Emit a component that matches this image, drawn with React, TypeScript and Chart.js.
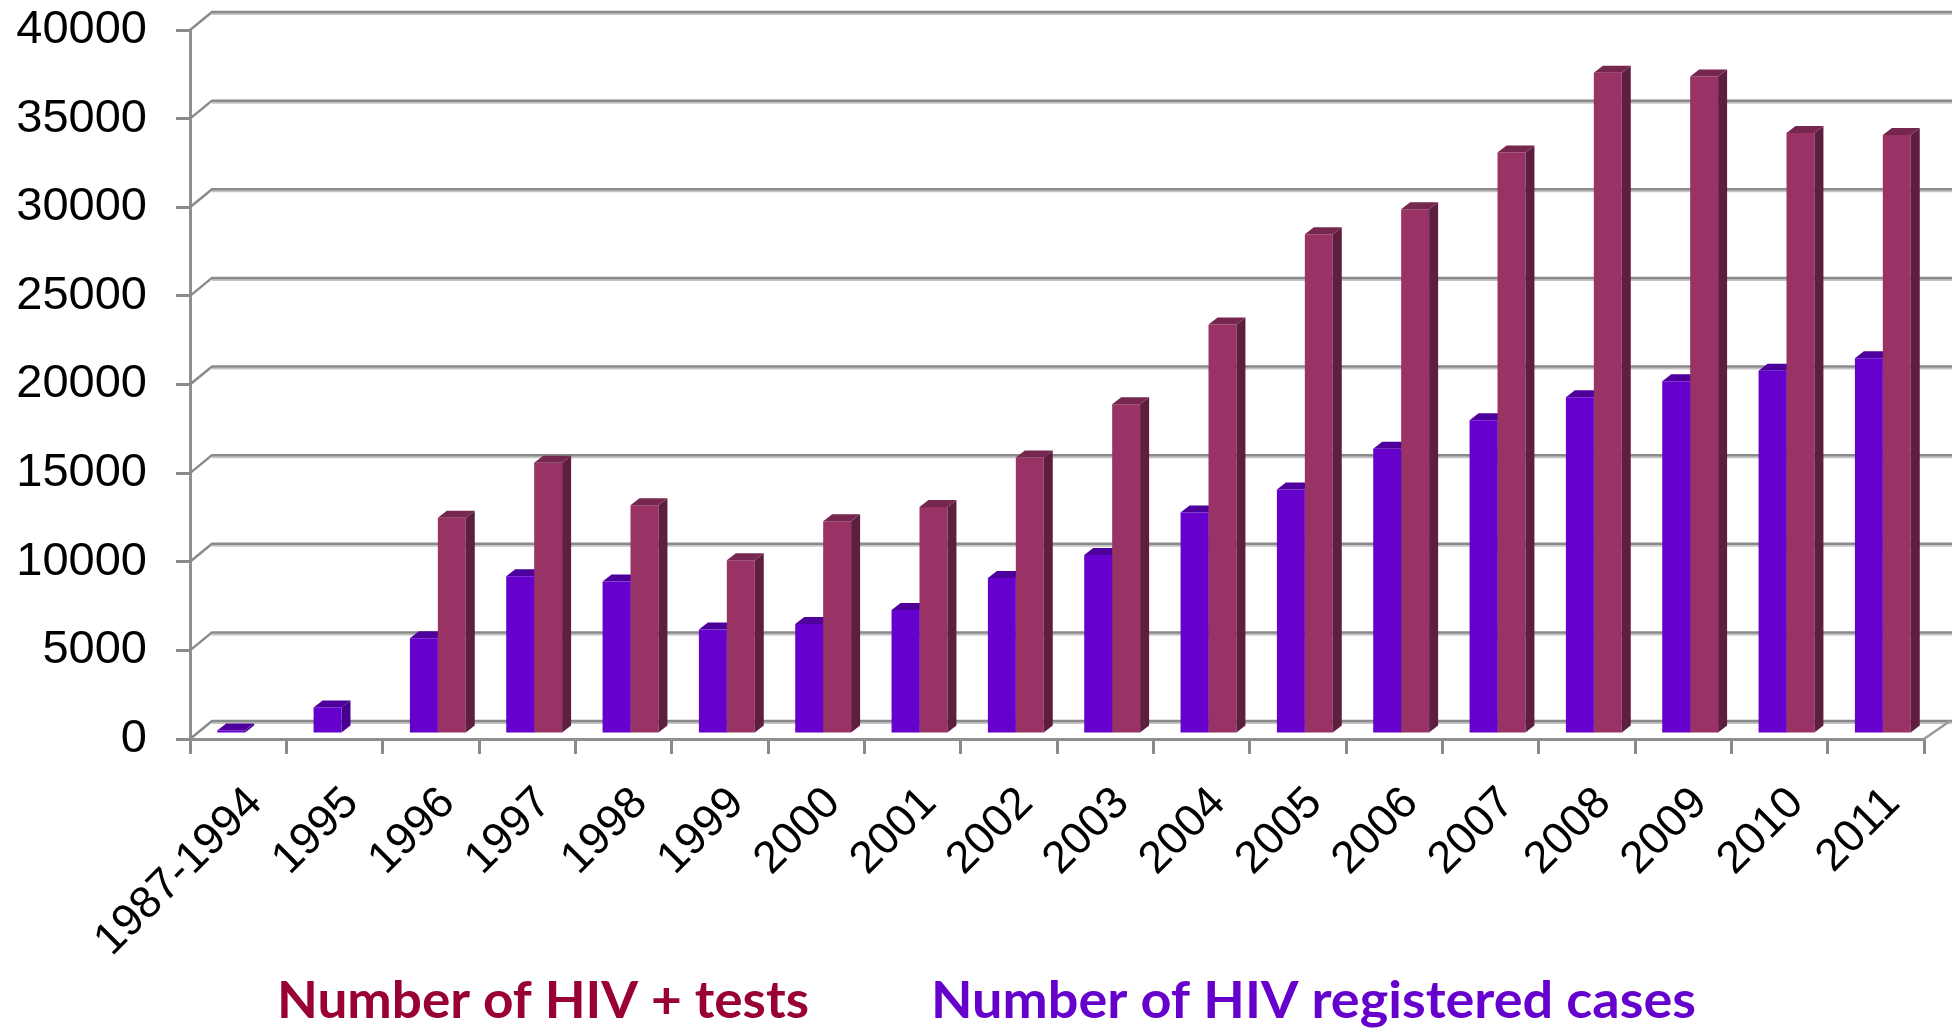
import React, { useEffect, useRef } from "react";
import { Chart, registerables } from "chart.js";

Chart.register(...registerables);

const categories = [
  "1987-1994", "1995", "1996", "1997", "1998", "1999", "2000", "2001", "2002",
  "2003", "2004", "2005", "2006", "2007", "2008", "2009", "2010", "2011",
];
const registeredCases = [
  200, 1500, 5400, 8900, 8600, 5900, 6200, 7000, 8800,
  10100, 12500, 13800, 16100, 17700, 19000, 19900, 20500, 21200,
];
const positiveTests = [
  null, null, 12200, 15300, 12900, 9800, 12000, 12800, 15600,
  18600, 23100, 28200, 29600, 32800, 37300, 37100, 33900, 33800,
];
const yTickStep = 5000;
const yMax = 40000;
const legendTexts = ["Number of HIV + tests", "Number of HIV registered cases"];

const W = 1952;
const H = 1029;
const BACK_DX = 22;
const BACK_DY = -18;
const BAR_SHIFT_X = 7;
const BAR_SHIFT_Y = -5;
const DEPTH_X = 9;
const DEPTH_Y = -7;

const BLUE = { front: "#6600CC", top: "#4E009C", side: "#470090" };
const RED = { front: "#993366", top: "#76274F", side: "#5E1E3F" };

function drawFaces(chart: any, idx: number, col: { top: string; side: string }) {
  const ctx = chart.ctx;
  const meta = chart.getDatasetMeta(idx);
  const data = chart.data.datasets[idx].data;
  meta.data.forEach((el: any, i: number) => {
    if (data[i] == null) return;
    const { x, y, base, width } = el.getProps(["x", "y", "base", "width"], true);
    const l = x - width / 2;
    const r = x + width / 2;
    ctx.fillStyle = col.side;
    ctx.beginPath();
    ctx.moveTo(r, y);
    ctx.lineTo(r + DEPTH_X, y + DEPTH_Y);
    ctx.lineTo(r + DEPTH_X, base + DEPTH_Y);
    ctx.lineTo(r, base);
    ctx.closePath();
    ctx.fill();
    ctx.fillStyle = col.top;
    ctx.beginPath();
    ctx.moveTo(l, y);
    ctx.lineTo(l + DEPTH_X, y + DEPTH_Y);
    ctx.lineTo(r + DEPTH_X, y + DEPTH_Y);
    ctx.lineTo(r, y);
    ctx.closePath();
    ctx.fill();
  });
}

const threeDPlugin = {
  id: "threeD",
  beforeDatasetsDraw(chart: any) {
    const { ctx, chartArea } = chart;
    const yScale = chart.scales.y;
    ctx.save();
    for (const t of yScale.ticks) {
      const py = yScale.getPixelForValue(t.value);
      ctx.strokeStyle = "#c4c4c4";
      ctx.lineWidth = 2;
      ctx.beginPath();
      ctx.moveTo(chartArea.left + BACK_DX, py + BACK_DY + 2);
      ctx.lineTo(W, py + BACK_DY + 2);
      ctx.stroke();
      ctx.strokeStyle = "#8a8a8a";
      ctx.lineWidth = 2.5;
      ctx.beginPath();
      ctx.moveTo(chartArea.left, py);
      ctx.lineTo(chartArea.left + BACK_DX, py + BACK_DY);
      ctx.lineTo(W, py + BACK_DY);
      ctx.stroke();
    }
    const p0 = yScale.getPixelForValue(0);
    ctx.strokeStyle = "#9a9a9a";
    ctx.lineWidth = 2.5;
    ctx.beginPath();
    ctx.moveTo(chartArea.right, p0);
    ctx.lineTo(chartArea.right + BACK_DX + 4, p0 + BACK_DY);
    ctx.stroke();
    ctx.restore();

    ctx.save();
    ctx.translate(BAR_SHIFT_X, BAR_SHIFT_Y);
    drawFaces(chart, 0, BLUE);
  },
  afterDatasetsDraw(chart: any) {
    drawFaces(chart, 1, RED);
    chart.ctx.restore();
  },
  afterDraw(chart: any) {
    const ctx = chart.ctx;
    const items = [
      { text: legendTexts[0], color: "#990033", x0: 277, x1: 809 },
      { text: legendTexts[1], color: "#6600CC", x0: 931, x1: 1696 },
    ];
    ctx.save();
    ctx.font = "bold 51px Lato, 'Open Sans', sans-serif";
    ctx.textBaseline = "alphabetic";
    ctx.textAlign = "left";
    for (const it of items) {
      const w = ctx.measureText(it.text).width;
      const sx = (it.x1 - it.x0) / w;
      ctx.save();
      ctx.translate(it.x0, 1018);
      ctx.scale(sx, 1);
      ctx.fillStyle = it.color;
      ctx.fillText(it.text, 0, 0);
      ctx.restore();
    }
    ctx.restore();
  },
};

export default function App() {
  const ref = useRef<HTMLCanvasElement | null>(null);
  useEffect(() => {
    document.body.style.margin = "0";
    const canvas = ref.current;
    if (!canvas) return;
    const chart = new Chart(canvas, {
      type: "bar",
      data: {
        labels: categories,
        datasets: [
          {
            label: legendTexts[1],
            data: registeredCases,
            backgroundColor: BLUE.front,
            borderWidth: 0,
            categoryPercentage: 0.58,
            barPercentage: 1,
          },
          {
            label: legendTexts[0],
            data: positiveTests as any,
            backgroundColor: RED.front,
            borderWidth: 0,
            categoryPercentage: 0.58,
            barPercentage: 1,
          },
        ],
      },
      options: {
        responsive: false,
        animation: false,
        devicePixelRatio: 1,
        layout: { padding: { top: 30, right: 28, left: 0, bottom: 0 } },
        plugins: {
          legend: { display: false },
          tooltip: { enabled: false },
        },
        scales: {
          x: {
            afterFit: (s: any) => {
              s.height = 290;
            },
            grid: {
              drawOnChartArea: false,
              drawTicks: true,
              tickLength: 15,
              color: "#8a8a8a",
              lineWidth: 3,
              offset: true,
            },
            border: { display: true, color: "#8f8f8f", width: 3 },
            ticks: {
              autoSkip: false,
              minRotation: 45,
              maxRotation: 45,
              padding: 23,
              labelOffset: 17,
              color: "#000000",
              font: { family: "'Liberation Sans', Arial, sans-serif", size: 45 },
            },
          },
          y: {
            min: 0,
            max: yMax,
            afterFit: (s: any) => {
              s.width = 190;
              s.paddingTop = 0;
              s.paddingBottom = 0;
            },
            grid: {
              drawOnChartArea: false,
              drawTicks: true,
              tickLength: 14,
              color: "#8a8a8a",
              lineWidth: 3,
            },
            border: { display: true, color: "#8f8f8f", width: 3 },
            ticks: {
              stepSize: yTickStep,
              padding: 29,
              color: "#000000",
              font: { family: "'Liberation Sans', Arial, sans-serif", size: 47 },
              callback: (v: any) => String(v),
            },
          },
        },
      },
      plugins: [threeDPlugin],
    });
    return () => chart.destroy();
  }, []);
  return (
    <canvas
      ref={ref}
      width={W}
      height={H}
      style={{ display: "block", width: W + "px", height: H + "px" }}
    />
  );
}
